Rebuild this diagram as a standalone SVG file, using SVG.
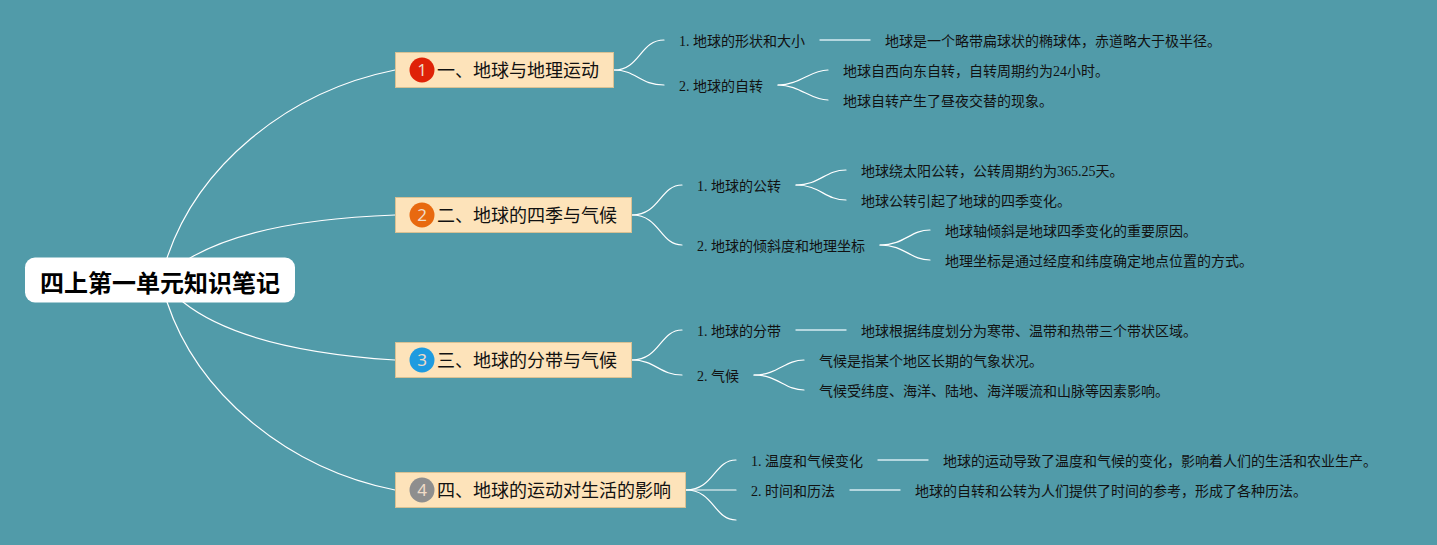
<svg xmlns="http://www.w3.org/2000/svg" width="1437" height="545" viewBox="0 0 1437 545">
<style>
text{font-family:"Liberation Serif","Noto Sans CJK SC",serif;fill:#111}
.root{font-family:"Liberation Sans","Noto Sans CJK SC",sans-serif;font-size:24px;font-weight:700;fill:#000}
.topic{font-family:"Liberation Sans","Noto Sans CJK SC",sans-serif;font-size:18px}
.t{font-size:14px}
.box{fill:#fde3ba;stroke:#d9c193;stroke-width:1}
.num{font-family:"Noto Sans",sans-serif;font-size:17px;fill:#f0dcc8;text-anchor:middle}
.c path{fill:none;stroke:#fff;stroke-width:1.2;stroke-linecap:round}
.l path{stroke:#d5ecf1;stroke-width:1.4}
</style>
<rect width="1437" height="545" fill="#519ba9"/>
<g id="connectors" class="c">
<path d="M167 258C197 168 285 92 395 70"/>
<path d="M190 258Q255 220 395 215"/>
<path d="M183 302Q243 350 395 360"/>
<path d="M167 302C197 392 285 468 395 490"/>
<path d="M614 70C640 70 640 40 664 40"/>
<path d="M614 70C636 70 640 85 664 85"/>
<path d="M778 85C800 85 810 70 828 70"/>
<path d="M778 85C800 85 810 100 828 100"/>
<path d="M632 215C660 215 660 185 682 185"/>
<path d="M632 215C660 215 660 245 682 245"/>
<path d="M796 185C820 185 825 170 846 170"/>
<path d="M796 185C820 185 825 200 846 200"/>
<path d="M880 245C905 245 910 230 930 230"/>
<path d="M880 245C905 245 910 260 930 260"/>
<path d="M632 360C660 360 660 330 682 330"/>
<path d="M632 360C655 360 660 375 682 375"/>
<path d="M754 375C778 375 785 360 804 360"/>
<path d="M754 375C778 375 785 390 804 390"/>
<path d="M686 490C714 490 714 460 736 460"/>
<path d="M686 490H736"/>
<path d="M686 490C714 490 714 520 736 520"/>
<g class="l">
<path d="M820 40H870"/>
<path d="M796 330H846"/>
<path d="M878 460H928"/>
<path d="M850 490H900"/>
</g>
</g>
<g id="root"><rect x="25" y="257.500" width="270" height="45" rx="10" fill="#fff"/><text class="root" x="40" y="292">四上第一单元知识笔记</text></g>
<g id="topic1"><rect class="box" x="395.500" y="52.500" width="218" height="35"/><circle cx="422" cy="70" r="12.500" fill="#df2207"/><text class="num" x="422" y="76">1</text><text class="topic" x="437" y="77">一、地球与地理运动</text></g>
<g id="topic2"><rect class="box" x="395.500" y="197.500" width="236" height="35"/><circle cx="422" cy="215" r="12.500" fill="#e8690f"/><text class="num" x="422" y="221">2</text><text class="topic" x="437" y="222">二、地球的四季与气候</text></g>
<g id="topic3"><rect class="box" x="395.500" y="342.500" width="236" height="35"/><circle cx="422" cy="360" r="12.500" fill="#1e9be0"/><text class="num" x="422" y="366">3</text><text class="topic" x="437" y="367">三、地球的分带与气候</text></g>
<g id="topic4"><rect class="box" x="395.500" y="472.500" width="290" height="35"/><circle cx="422" cy="490" r="12.500" fill="#8e8e8e"/><text class="num" x="422" y="496">4</text><text class="topic" x="437" y="497">四、地球的运动对生活的影响</text></g>
<g id="s11"><text class="t" x="679" y="46">1. 地球的形状和大小</text></g>
<g id="d111"><text class="t" x="885" y="46">地球是一个略带扁球状的椭球体，赤道略大于极半径。</text></g>
<g id="s12"><text class="t" x="679" y="91">2. 地球的自转</text></g>
<g id="d121"><text class="t" x="843" y="76">地球自西向东自转，自转周期约为24小时。</text></g>
<g id="d122"><text class="t" x="843" y="106">地球自转产生了昼夜交替的现象。</text></g>
<g id="s21"><text class="t" x="697" y="191">1. 地球的公转</text></g>
<g id="d211"><text class="t" x="861" y="176">地球绕太阳公转，公转周期约为365.25天。</text></g>
<g id="d212"><text class="t" x="861" y="206">地球公转引起了地球的四季变化。</text></g>
<g id="s22"><text class="t" x="697" y="251">2. 地球的倾斜度和地理坐标</text></g>
<g id="d221"><text class="t" x="945" y="236">地球轴倾斜是地球四季变化的重要原因。</text></g>
<g id="d222"><text class="t" x="945" y="266">地理坐标是通过经度和纬度确定地点位置的方式。</text></g>
<g id="s31"><text class="t" x="697" y="336">1. 地球的分带</text></g>
<g id="d311"><text class="t" x="861" y="336">地球根据纬度划分为寒带、温带和热带三个带状区域。</text></g>
<g id="s32"><text class="t" x="697" y="381">2. 气候</text></g>
<g id="d321"><text class="t" x="819" y="366">气候是指某个地区长期的气象状况。</text></g>
<g id="d322"><text class="t" x="819" y="396">气候受纬度、海洋、陆地、海洋暖流和山脉等因素影响。</text></g>
<g id="s41"><text class="t" x="751" y="466">1. 温度和气候变化</text></g>
<g id="d411"><text class="t" x="943" y="466">地球的运动导致了温度和气候的变化，影响着人们的生活和农业生产。</text></g>
<g id="s42"><text class="t" x="751" y="496">2. 时间和历法</text></g>
<g id="d421"><text class="t" x="915" y="496">地球的自转和公转为人们提供了时间的参考，形成了各种历法。</text></g>
</svg>
